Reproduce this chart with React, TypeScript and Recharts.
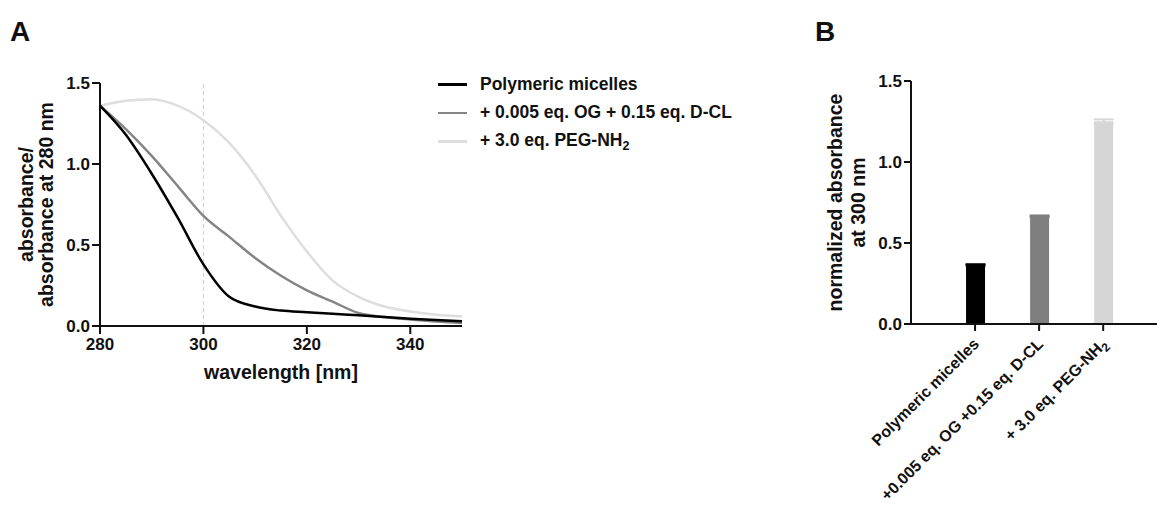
import {
  LineChart,
  Line,
  XAxis,
  YAxis,
  ReferenceLine,
  BarChart,
  Bar,
  ErrorBar,
  Label,
} from "recharts";

// panel A - normalized spectra
const wavelengths = [280, 285, 290, 295, 300, 305, 310, 315, 320, 325, 330, 335, 340, 345, 350];
const micelles = [1.36, 1.18, 0.94, 0.67, 0.38, 0.18, 0.12, 0.095, 0.085, 0.075, 0.066, 0.055, 0.045, 0.037, 0.03];
const ogDcl = [1.36, 1.215, 1.05, 0.865, 0.68, 0.55, 0.42, 0.31, 0.22, 0.15, 0.08, 0.055, 0.04, 0.028, 0.018];
const pegNh2 = [1.36, 1.39, 1.4, 1.36, 1.27, 1.13, 0.93, 0.68, 0.46, 0.28, 0.18, 0.12, 0.09, 0.07, 0.06];
const seriesNames = ["Polymeric micelles", "+ 0.005 eq. OG + 0.15 eq. D-CL", "+ 3.0 eq. PEG-NH2"];
const seriesColors = ["#000000", "#858585", "#dedede"];

// panel B - absorbance at 300 nm
const barCategories = ["Polymeric micelles", "+0.005 eq. OG +0.15 eq. D-CL", "+ 3.0 eq. PEG-NH2"];
const barValues = [0.365, 0.665, 1.251];
const barErrors = [0.004, 0.005, 0.012];
const barColors = ["#000000", "#7f7f7f", "#d6d6d6"];

const yTicks = [0, 0.5, 1, 1.5];
const xTicks = [280, 300, 320, 340];

const FONT = '"Liberation Sans", Arial, Helvetica, sans-serif';
const INK = "#111";

const spectra = wavelengths.map((nm, i) => ({
  nm,
  micelles: micelles[i],
  ogDcl: ogDcl[i],
  peg: pegNh2[i],
}));

const bars = barCategories.map((name, i) => {
  const row: any = { pos: i + 1, name };
  row["v" + i] = barValues[i];
  row["e" + i] = barErrors[i];
  return row;
});

const tickStyle = { fill: INK, fontSize: 17, fontWeight: 700, fontFamily: FONT };
const axisStyle = { stroke: INK, strokeWidth: 2 };

// "NH2" -> NH with subscript 2
function svgSub(text: string) {
  if (!text.endsWith("NH2")) return text;
  return [
    <tspan key="a">{text.slice(0, -1)}</tspan>,
    <tspan key="b" dy={4} fontSize="0.75em">
      2
    </tspan>,
  ];
}

function htmlSub(text: string) {
  if (!text.endsWith("NH2")) return text;
  return (
    <>
      {text.slice(0, -1)}
      <sub style={{ fontSize: "0.72em", verticalAlign: "-0.3em" }}>2</sub>
    </>
  );
}

function RotatedTitle(props: any) {
  const { viewBox, lines, xs } = props;
  const cy = viewBox.y + viewBox.height / 2;
  return (
    <g>
      {lines.map((l: string, i: number) => (
        <text
          key={l}
          x={xs[i]}
          y={cy}
          transform={`rotate(-90 ${xs[i]} ${cy})`}
          textAnchor="middle"
          fontFamily={FONT}
          fontWeight={700}
          fontSize={19.5}
          fill={INK}
        >
          {l}
        </text>
      ))}
    </g>
  );
}

function CategoryTick(props: any) {
  const { x, y, payload } = props;
  const label = barCategories[payload.value - 1];
  if (!label) return null;
  const ax = x + 5;
  const ay = y + 12;
  return (
    <text
      x={ax}
      y={ay}
      transform={`rotate(-45 ${ax} ${ay})`}
      textAnchor="end"
      fontFamily={FONT}
      fontWeight={700}
      fontSize={16}
      fill={INK}
    >
      {svgSub(label)}
    </text>
  );
}

const fmt = (v: number) => v.toFixed(1);

export default function App() {
  return (
    <div style={{ position: "absolute", left: 0, top: 0, width: 1157, height: 508, background: "#fff", fontFamily: FONT, overflow: "hidden" }}>
      <div style={{ position: "absolute", left: 10, top: 18, fontSize: 28, lineHeight: "28px", fontWeight: 700, color: INK }}>A</div>
      <div style={{ position: "absolute", left: 815, top: 18, fontSize: 28, lineHeight: "28px", fontWeight: 700, color: INK }}>B</div>

      <div style={{ position: "absolute", left: 0, top: 0 }}>
        <LineChart width={800} height={400} data={spectra} margin={{ top: 83, right: 338, bottom: 14, left: 0 }}>
          <XAxis
            dataKey="nm"
            type="number"
            domain={[280, 350]}
            ticks={xTicks}
            height={60}
            tick={tickStyle}
            tickSize={8}
            tickMargin={4}
            axisLine={axisStyle}
            tickLine={axisStyle}
          >
            <Label
              content={(p: any) => (
                <text
                  x={p.viewBox.x + p.viewBox.width / 2}
                  y={p.viewBox.y + 53}
                  textAnchor="middle"
                  fontFamily={FONT}
                  fontWeight={700}
                  fontSize={19.5}
                  fill={INK}
                >
                  wavelength [nm]
                </text>
              )}
            />
          </XAxis>
          <YAxis
            type="number"
            domain={[0, 1.5]}
            ticks={yTicks}
            width={100}
            tick={tickStyle}
            tickFormatter={fmt}
            tickSize={8}
            tickMargin={2}
            axisLine={axisStyle}
            tickLine={axisStyle}
          >
            <Label content={(p: any) => <RotatedTitle {...p} lines={["absorbance/", "absorbance at 280 nm"]} xs={[33, 53]} />} />
          </YAxis>
          <ReferenceLine x={300} stroke="#cfcfcf" strokeDasharray="4 3" strokeWidth={1} />
          <Line type="monotone" dataKey="peg" name={seriesNames[2]} stroke={seriesColors[2]} strokeWidth={2.5} dot={false} isAnimationActive={false} />
          <Line type="monotone" dataKey="ogDcl" name={seriesNames[1]} stroke={seriesColors[1]} strokeWidth={2.5} dot={false} isAnimationActive={false} />
          <Line type="monotone" dataKey="micelles" name={seriesNames[0]} stroke={seriesColors[0]} strokeWidth={2.5} dot={false} isAnimationActive={false} />
        </LineChart>
      </div>

      {/* legend for panel A */}
      <div style={{ position: "absolute", left: 438, top: 70, color: INK, fontWeight: 700, fontSize: 17.5 }}>
        {seriesNames.map((n, i) => (
          <div key={n} style={{ display: "flex", alignItems: "center", height: 28.5, whiteSpace: "nowrap" }}>
            <span style={{ display: "inline-block", width: 29, height: 2.5, background: seriesColors[i], marginRight: 13 }} />
            <span>{htmlSub(n)}</span>
          </div>
        ))}
      </div>

      <div style={{ position: "absolute", left: 760, top: 0 }}>
        <BarChart width={397} height={508} data={bars} margin={{ top: 81, right: 0, bottom: 0, left: 0 }}>
          <XAxis
            dataKey="pos"
            type="number"
            domain={[0, 3.84]}
            ticks={[1, 2, 3]}
            height={184}
            tick={<CategoryTick />}
            tickSize={7}
            tickMargin={2}
            axisLine={axisStyle}
            tickLine={axisStyle}
            interval={0}
          />
          <YAxis
            type="number"
            domain={[0, 1.5]}
            ticks={yTicks}
            width={151}
            tick={tickStyle}
            tickFormatter={fmt}
            tickSize={7}
            tickMargin={2}
            axisLine={axisStyle}
            tickLine={axisStyle}
          >
            <Label content={(p: any) => <RotatedTitle {...p} lines={["normalized absorbance", "at 300 nm"]} xs={[81.5, 104.5]} />} />
          </YAxis>
          {barCategories.map((c, i) => (
            <Bar key={c} dataKey={"v" + i} stackId="s" fill={barColors[i]} barSize={19} isAnimationActive={false}>
              <ErrorBar dataKey={"e" + i} width={10} strokeWidth={2} stroke={barColors[i]} direction="y" />
            </Bar>
          ))}
        </BarChart>
      </div>
    </div>
  );
}
